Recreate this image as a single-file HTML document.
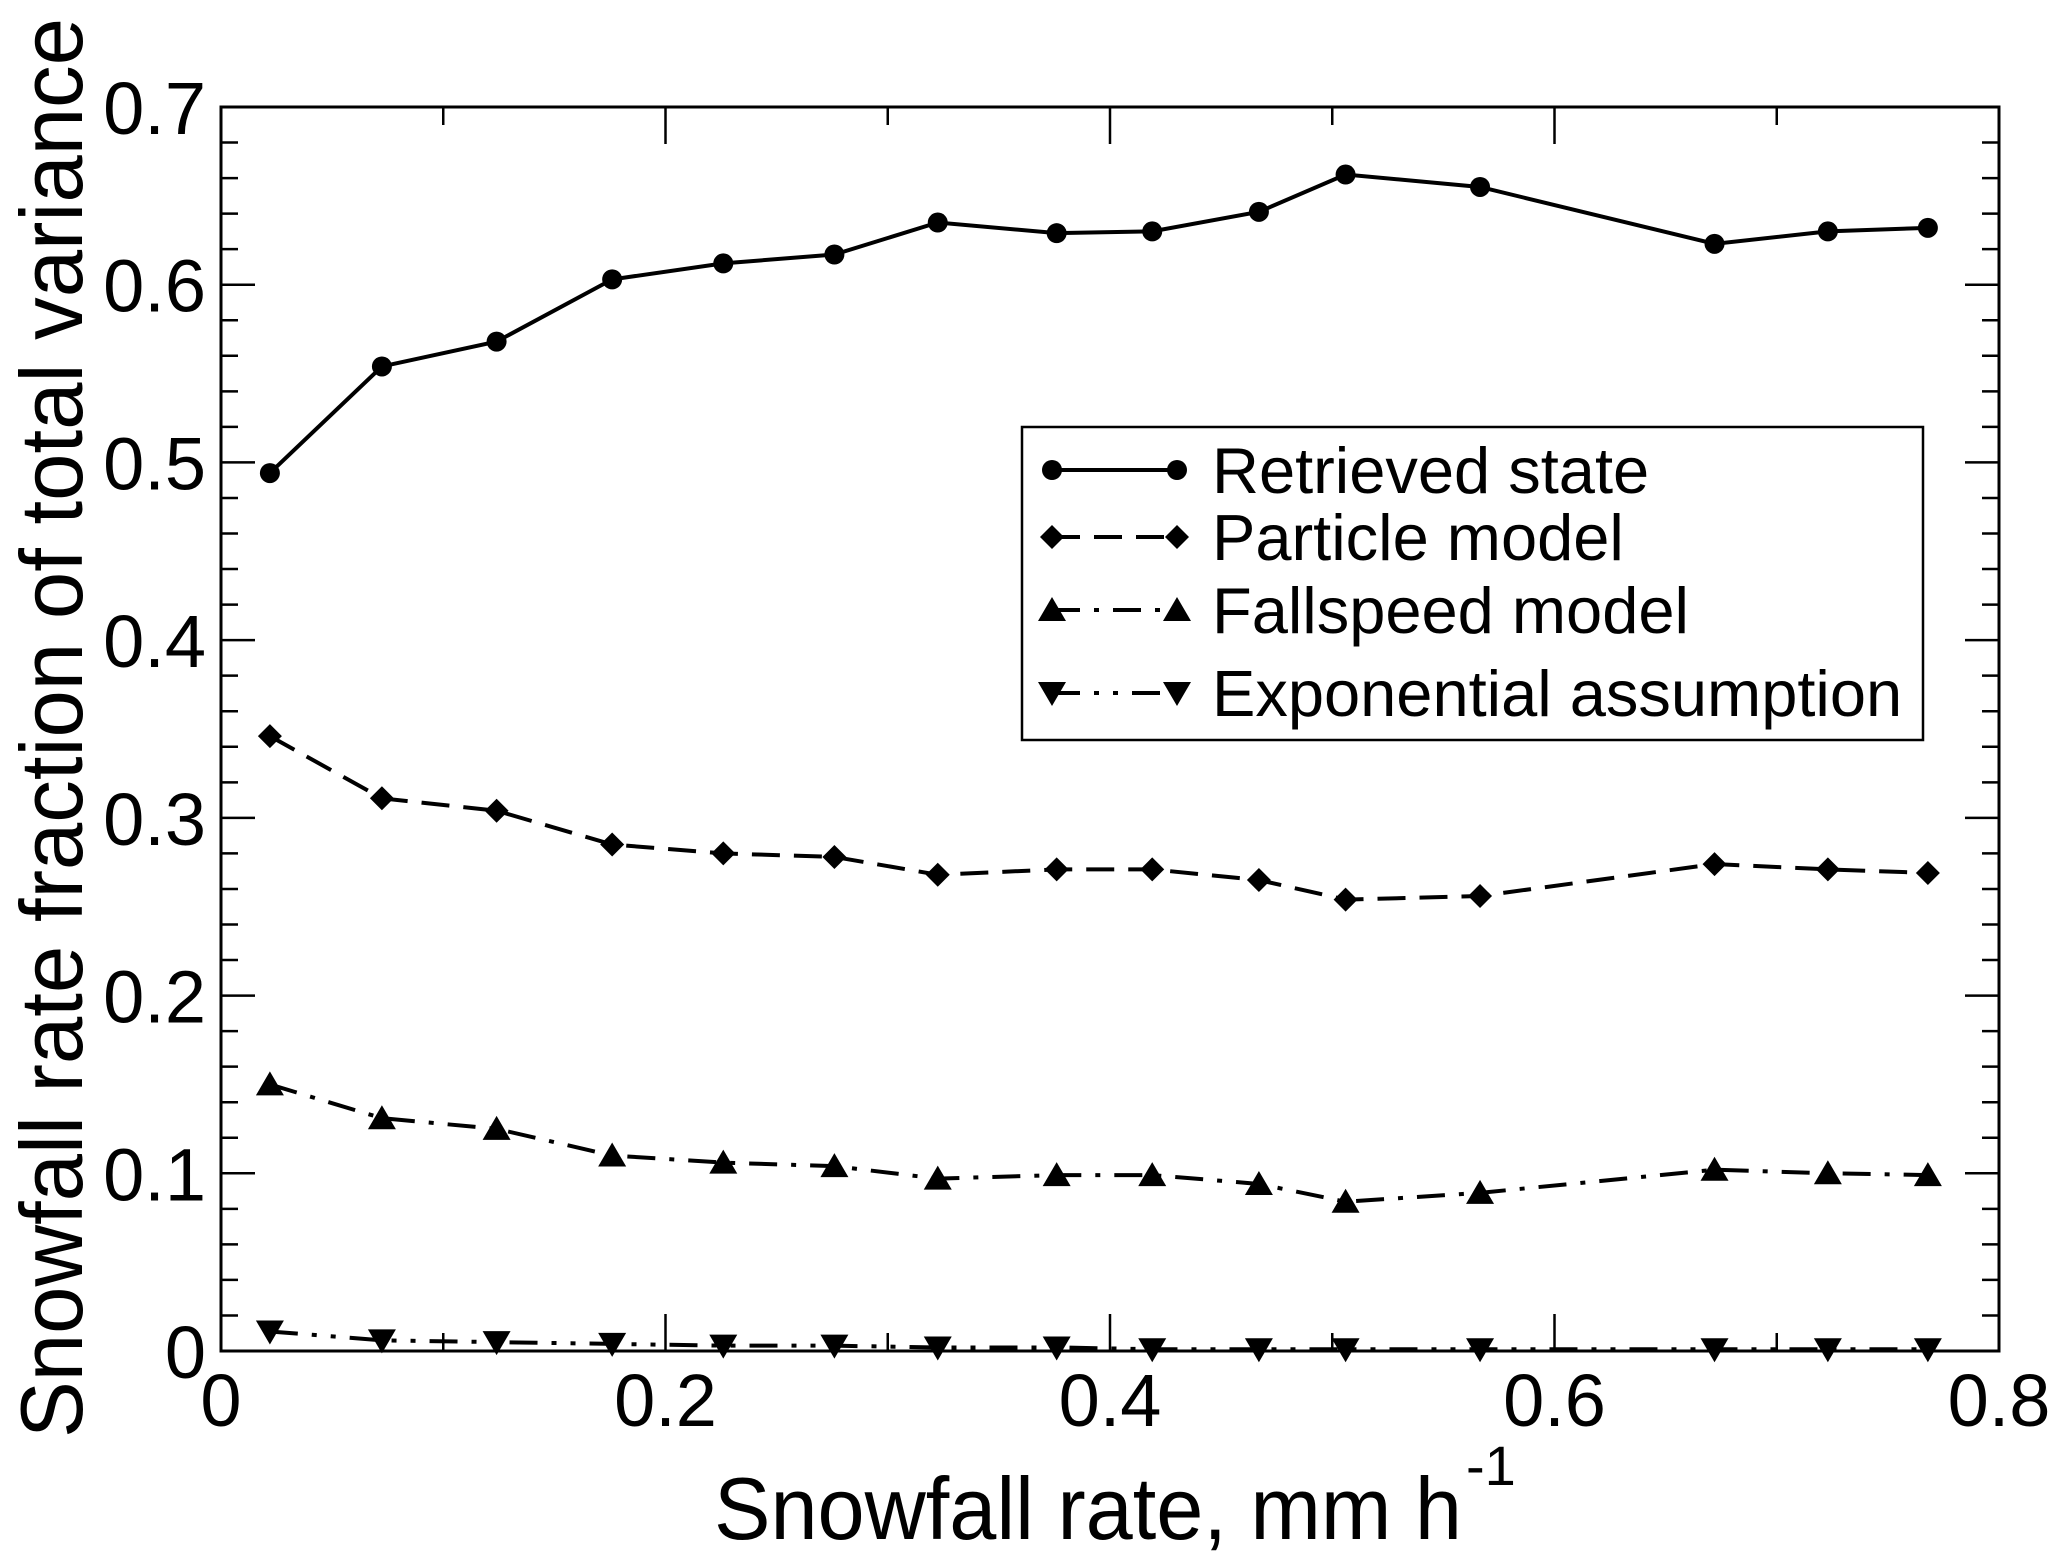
<!DOCTYPE html>
<html><head><meta charset="utf-8"><style>
html,body{margin:0;padding:0;background:#fff;}
svg{display:block;font-family:"Liberation Sans",sans-serif;}
</style></head><body>
<svg id="chart" width="2067" height="1567" viewBox="0 0 2067 1567" xmlns="http://www.w3.org/2000/svg">
<g id="axes"></g>
<g id="series"></g>
<text x="714" y="1539" font-size="88" textLength="748" lengthAdjust="spacingAndGlyphs">Snowfall rate, mm h</text>
<text x="1466" y="1485" font-size="56">-1</text>
<text transform="translate(82,728) rotate(-90)" font-size="88" text-anchor="middle" textLength="1420" lengthAdjust="spacingAndGlyphs">Snowfall rate fraction of total variance</text>
<g id="legend"></g>
</svg>
<script>
const xValues=[0.022,0.0724,0.124,0.176,0.226,0.276,0.3225,0.376,0.419,0.467,0.506,0.5665,0.672,0.723,0.768];
const retrieved=[0.494,0.554,0.568,0.603,0.612,0.617,0.635,0.629,0.630,0.641,0.662,0.655,0.623,0.630,0.632];
const particle=[0.346,0.311,0.304,0.285,0.280,0.278,0.268,0.271,0.271,0.265,0.254,0.256,0.274,0.271,0.269];
const fallspeed=[0.150,0.131,0.125,0.110,0.106,0.104,0.097,0.099,0.099,0.094,0.084,0.089,0.102,0.100,0.099];
const exponential=[0.011,0.006,0.005,0.004,0.003,0.003,0.002,0.002,0.001,0.001,0.001,0.001,0.001,0.001,0.001];
const xTicks=["0","0.2","0.4","0.6","0.8"];
const yTicks=["0","0.1","0.2","0.3","0.4","0.5","0.6","0.7"];
const seriesNames=["Retrieved state","Particle model","Fallspeed model","Exponential assumption"];

const NS="http://www.w3.org/2000/svg";
const L=221,R=1999,T=107,B=1351;
function X(v){return L+v/0.8*(R-L);}
function Y(v){return B-v/0.7*(B-T);}
function mk(tag,attrs,parent){const e=document.createElementNS(NS,tag);for(const k in attrs)e.setAttribute(k,attrs[k]);parent.appendChild(e);return e;}
const axes=document.getElementById('axes');
const frame=mk('rect',{x:L,y:T,width:R-L,height:B-T,fill:'none',stroke:'#000','stroke-width':3},axes);


for(let i=0;i<=8;i++){const v=i*0.1,x=X(v),len=(i%2===0)?37:18;
 const t1=mk('line',{x1:x,x2:x,y1:B,y2:B-len,stroke:'#000','stroke-width':2.5},axes);
 
 
 const t2=mk('line',{x1:x,x2:x,y1:T,y2:T+len,stroke:'#000','stroke-width':2.5},axes);
 
 }
xTicks.forEach((s,i)=>{const t=mk('text',{x:X(i*0.2),y:1426,'font-size':74,'text-anchor':'middle'},axes);t.textContent=s;
 
 });
for(let i=0;i<=35;i++){const v=i*0.02,y=Y(v),len=(i%5===0)?34:17;
 const t1=mk('line',{x1:L,x2:L+len,y1:y,y2:y,stroke:'#000','stroke-width':2.5},axes);
 
 
 const t2=mk('line',{x1:R,x2:R-len,y1:y,y2:y,stroke:'#000','stroke-width':2.5},axes);
 
 }
yTicks.forEach((s,i)=>{const t=mk('text',{x:206,y:Y(i*0.1)+27,'font-size':74,'text-anchor':'end'},axes);t.textContent=s;
 
 });

const dashes=['none','28,14','28,14,5,14','28,14,5,14,5,14'];
function marker(type,x,y,g){
 let e;
 if(type===0)e=mk('circle',{cx:x,cy:y,r:10},g);
 else if(type===1)e=mk('polygon',{points:`${x},${y-12} ${x+12},${y} ${x},${y+12} ${x-12},${y}`},g);
 else if(type===2)e=mk('polygon',{points:`${x},${y-13} ${x+14},${y+11} ${x-14},${y+11}`},g);
 else e=mk('polygon',{points:`${x-14},${y-11} ${x+14},${y-11} ${x},${y+13}`},g);
 return e;}
const seriesG=document.getElementById('series');
[retrieved,particle,fallspeed,exponential].forEach((arr,si)=>{
 const g=mk('g',{},seriesG);
 
 
 const pts=arr.map((v,i)=>X(xValues[i])+','+Y(v)).join(' ');
 const pl=mk('polyline',{points:pts,fill:'none',stroke:'#000','stroke-width':4,'stroke-dasharray':dashes[si]},g);
 
 
 arr.forEach((v,i)=>{const m=marker(si,X(xValues[i]),Y(v),g);
  
  });
});
const lg=document.getElementById('legend');
const box=mk('rect',{x:1022,y:427,width:901,height:313,fill:'#fff',stroke:'#000','stroke-width':2.5},lg);


const rows=[470,537,610,693];
seriesNames.forEach((n,si)=>{
 const g=mk('g',{},lg);
 
 
 const y=rows[si];
 mk('line',{x1:1052,x2:1177,y1:y,y2:y,stroke:'#000','stroke-width':4,'stroke-dasharray':dashes[si]},g);
 marker(si,1052,y,g);marker(si,1177,y,g);
 const t=mk('text',{x:1212,y:y+23,'font-size':65},g);t.textContent=n;
 
 
});
</script>
</body></html>
